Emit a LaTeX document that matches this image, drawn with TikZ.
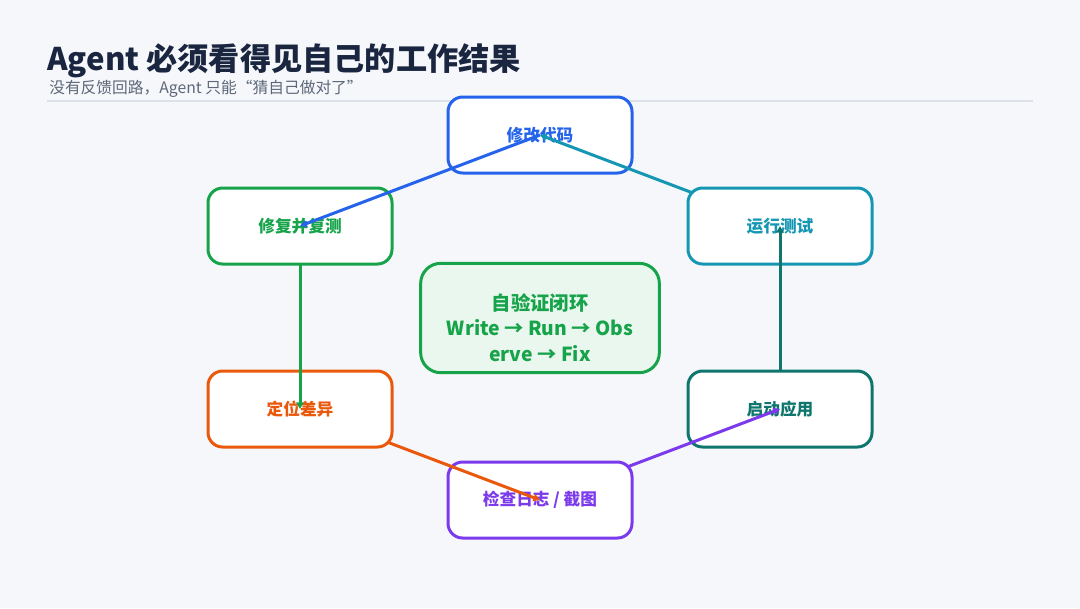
\documentclass[tikz,border=0pt]{standalone}
\usepackage{fontspec}
\setmainfont{Noto Sans CJK SC}
\usepackage{tikz}
\usetikzlibrary{arrows.meta}

\definecolor{bgc}{HTML}{F5F7FB}
\definecolor{titlec}{HTML}{1A2540}
\definecolor{subc}{HTML}{5E6878}
\definecolor{rulec}{HTML}{DCE1EA}
\definecolor{editc}{HTML}{2563EB}
\definecolor{runc}{HTML}{1597B3}
\definecolor{launchc}{HTML}{0F766E}
\definecolor{checkc}{HTML}{7C3AED}
\definecolor{locatec}{HTML}{EA580C}
\definecolor{fixc}{HTML}{16A34A}
\definecolor{hubfill}{HTML}{E9F7EE}

\begin{document}
\begin{tikzpicture}[x=0.75pt, y=-0.75pt]
    \tikzstyle{stage} = [rectangle, fill=white, line width=2.25pt, rounded corners=11pt, minimum width=138pt, minimum height=57pt, font=\bfseries\fontsize{12.5}{15}\selectfont]
    \tikzstyle{hub} = [rectangle, draw=fixc, fill=hubfill, text=fixc, line width=2.25pt, rounded corners=15pt, minimum width=179pt, minimum height=82pt, align=center, font=\bfseries\fontsize{14.5}{19}\selectfont]
    \tikzstyle{link} = [line width=2.25pt, -{Triangle[length=5pt, width=5.5pt]}]

    \fill[bgc] (0,0) rectangle (1080,608);

    % heading
    \node [anchor=base west, inner sep=0pt, text=titlec, font=\bfseries\fontsize{23.4}{27}\selectfont] (title) at (47,70) {Agent 必须看得见自己的工作结果};
    \node [anchor=base west, inner sep=0pt, text=subc, font=\fontsize{11.8}{14}\selectfont] (subtitle) at (49,93) {没有反馈回路，Agent 只能“猜自己做对了”};
    \draw [rulec, line width=1.2pt] (47,101) -- (1033,101);

    % centres of the six stages
    \coordinate (c-edit) at (540,135);
    \coordinate (c-run) at (780,226);
    \coordinate (c-launch) at (780,409);
    \coordinate (c-check) at (540,500);
    \coordinate (c-locate) at (300,409);
    \coordinate (c-fix) at (300,226);

    \node [stage, draw=editc, text=editc] (edit) at (c-edit) {修改代码};
    \draw [link, runc] (c-run) -- (c-edit);
    \node [stage, draw=runc, text=runc] (run) at (c-run) {运行测试};
    \draw [link, launchc] (c-launch) -- (c-run);
    \node [stage, draw=launchc, text=launchc] (launch) at (c-launch) {启动应用};
    \draw [link, checkc] (c-check) -- (c-launch);
    \node [stage, draw=checkc, text=checkc] (check) at (c-check) {检查日志 / 截图};
    \draw [link, locatec] (c-locate) -- (c-check);
    \node [stage, draw=locatec, text=locatec] (locate) at (c-locate) {定位差异};
    \draw [link, fixc] (c-fix) -- (c-locate);
    \node [stage, draw=fixc, text=fixc] (fix) at (c-fix) {修复并复测};
    \draw [link, editc] (c-edit) -- (c-fix);

    \node [hub] (loop) at (540,318) {\rule{0pt}{27pt}自验证闭环\\Write → Run → Obs\\erve → Fix};
\end{tikzpicture}
\end{document}
